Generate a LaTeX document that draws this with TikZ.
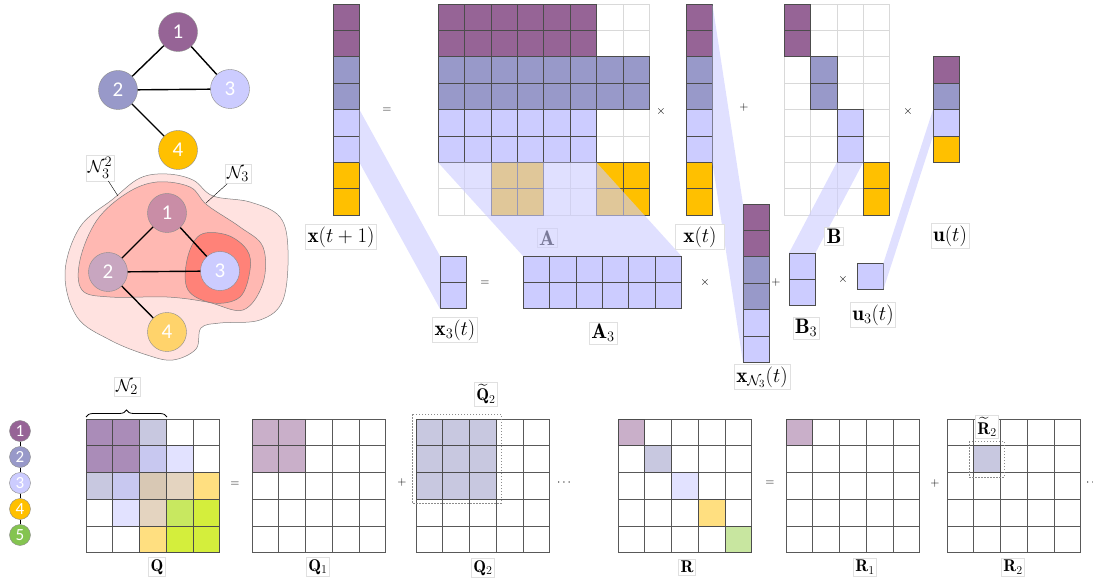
\documentclass[tikz,border=0pt]{standalone}
\usepackage{amsmath,amssymb}
\usepackage{fontspec}
\newfontfamily\numfont{Carlito}
\usetikzlibrary{decorations.pathreplacing}

\definecolor{purp}{HTML}{966496}
\definecolor{slate}{HTML}{9899C9}
\definecolor{lav}{HTML}{CCCCFF}
\definecolor{amber}{HTML}{FFC000}
\definecolor{leaf}{HTML}{84C450}
\definecolor{purpL}{HTML}{C9AFC9}
\definecolor{slateL}{HTML}{C8C8E0}
\definecolor{lavL}{HTML}{E2E2FF}
\definecolor{amberL}{HTML}{FFDF80}
\definecolor{leafL}{HTML}{C8E6A0}
\definecolor{mixPS}{HTML}{AA8CB8}
\definecolor{mixSL}{HTML}{C8C8F0}
\definecolor{tanA}{HTML}{D8C8B4}
\definecolor{tanB}{HTML}{E4D4C0}
\definecolor{lime}{HTML}{C8E860}
\definecolor{limeB}{HTML}{D4EE3C}
\definecolor{pinkA}{HTML}{FFE2E0}
\definecolor{pinkB}{HTML}{FFB8B2}
\definecolor{pinkC}{HTML}{FF8278}
\definecolor{nbA}{HTML}{C98DA6}
\definecolor{nbB}{HTML}{C8A6C0}
\definecolor{nbD}{HTML}{FFD36B}

% cells of a matrix: x, y, rows, cols, size, style
\newcommand{\gridmat}[6]{%
  \foreach \ii in {1,...,#3}{\foreach \jj in {1,...,#4}{%
    \draw[#6] ({#1+(\jj-1)*#5},{#2+(\ii-1)*#5}) rectangle ++(#5,#5);}}}
% one coloured cell: x, y, size, row, col, colour
\newcommand{\cellat}[6]{%
  \draw[cellbox, fill=#6] ({#1+#5*#3},{#2+#4*#3}) rectangle ++(#3,#3);}

\begin{document}
\begin{tikzpicture}[x=1pt,y=-1pt,
  vtx/.style={circle, draw=black!45, minimum size=39pt, inner sep=0pt, text=white, font=\numfont\fontsize{21}{21}\selectfont},
  svtx/.style={vtx, minimum size=21pt, font=\numfont\fontsize{17}{17}\selectfont},
  edge/.style={line width=1.4pt},
  lbl/.style={draw=black!12, fill=white, inner sep=2pt, font=\fontsize{21}{25}\selectfont},
  nlbl/.style={lbl, font=\fontsize{19}{22}\selectfont},
  slbl/.style={lbl, font=\fontsize{17}{20}\selectfont},
  op/.style={font=\fontsize{12}{14}\selectfont},
  band/.style={fill=lav, fill opacity=0.6},
  blob/.style={draw=black!50, line width=0.5pt},
  lightgrid/.style={draw=black!15, line width=0.6pt},
  darkgrid/.style={draw=black!65, line width=0.6pt},
  cellbox/.style={draw=black!70, line width=0.6pt},
  dashbox/.style={draw=black!45, dash pattern=on 1.5pt off 1.5pt, line width=0.6pt}]
\useasboundingbox (0,0) rectangle (1093,580);

% graph
\path (178,32) node (t1) [vtx, fill=purp] {1};
\path (118,90) node (t2) [vtx, fill=slate] {2};
\path (230,89) node (t3) [vtx, fill=lav] {3};
\path (178,150) node (t4) [vtx, fill=amber] {4};
\draw[edge] (t1) -- (t2);
\draw[edge] (t1) -- (t3);
\draw[edge] (t2) -- (t3);
\draw[edge] (t2) -- (t4);

% neighbourhoods of node 3
\draw[blob, fill=pinkA] plot[smooth cycle, tension=0.6] coordinates {(167,174) (140,178) (113,199) (80,227) (65,273) (77,317) (110,340) (147,355) (173,360) (196,349) (201,328) (220,323) (260,320) (283,300) (288,250) (280,217) (250,202) (213,196) (193,180)};
\draw[blob, fill=pinkB] plot[smooth cycle, tension=0.6] coordinates {(157,182) (127,193) (97,220) (80,260) (82,290) (110,297) (167,297) (207,302) (243,310) (263,283) (263,247) (240,227) (207,205) (190,187)};
\draw[blob, fill=pinkC] plot[smooth cycle, tension=0.6] coordinates {(200,235) (187,260) (188,290) (213,303) (240,297) (250,270) (247,250) (227,235)};
\path (167,213) node (b1) [vtx, fill=nbA] {1};
\path (108,272) node (b2) [vtx, fill=nbB] {2};
\path (220,271) node (b3) [vtx, fill=lav] {3};
\path (167,332) node (b4) [vtx, fill=nbD] {4};
\draw[edge] (b1) -- (b2);
\draw[edge] (b1) -- (b3);
\draw[edge] (b2) -- (b3);
\draw[edge] (b2) -- (b4);
\path (100,168) node (n32) [nlbl] {$\mathcal{N}_3^2$};
\path (238,174) node (n3) [nlbl] {$\mathcal{N}_3$};
\coordinate (n32end) at (118,196);
\coordinate (n3end) at (206,203);
\draw (n32) -- (n32end);
\draw (n3) -- (n3end);

% x(t+1) = A x(t) + B u(t)
\gridmat{333}{4}{8}{1}{26.4}{lightgrid}
\foreach \r/\col in {0/purp,1/purp,2/slate,3/slate,4/lav,5/lav,6/amber,7/amber}
  {\cellat{333}{4}{26.4}{\r}{0}{\col}}
\gridmat{438}{4}{8}{8}{26.4}{lightgrid}
\foreach \r/\col in {0/purp,1/purp,4/lav,5/lav}
  {\foreach \k in {0,...,5} {\cellat{438}{4}{26.4}{\r}{\k}{\col}}}
\foreach \r in {2,3}
  {\foreach \k in {0,...,7} {\cellat{438}{4}{26.4}{\r}{\k}{slate}}}
\foreach \r in {6,7}
  {\foreach \k in {2,3,6,7} {\cellat{438}{4}{26.4}{\r}{\k}{amber}}}
\gridmat{686}{4}{8}{1}{26.4}{lightgrid}
\foreach \r/\col in {0/purp,1/purp,2/slate,3/slate,4/lav,5/lav,6/amber,7/amber}
  {\cellat{686}{4}{26.4}{\r}{0}{\col}}
\gridmat{784}{4}{8}{4}{26.4}{lightgrid}
\foreach \r/\k/\col in {0/0/purp,1/0/purp,2/1/slate,3/1/slate,4/2/lav,5/2/lav,6/3/amber,7/3/amber}
  {\cellat{784}{4}{26.4}{\r}{\k}{\col}}
\foreach \r/\col in {0/purp,1/slate,2/lav,3/amber}
  {\cellat{933}{56.8}{26.4}{\r}{0}{\col}}

% local model of node 3
\foreach \r in {0,1} {\cellat{440}{256}{26.4}{\r}{0}{lav}}
\foreach \r in {0,1} {\foreach \k in {0,...,5} {\cellat{523}{256}{26.4}{\r}{\k}{lav}}}
\foreach \r/\col in {0/purp,1/purp,2/slate,3/slate,4/lav,5/lav}
  {\cellat{743}{204}{26.4}{\r}{0}{\col}}
\foreach \r in {0,1} {\cellat{789}{253}{26.4}{\r}{0}{lav}}
\cellat{857}{263}{26.4}{0}{0}{lav}

\path (547,238) node (Alab) [lbl] {$\mathbf{A}$};

% projections
\coordinate (p1a) at (359.4,109.6); \coordinate (p1b) at (359.4,162.4);
\coordinate (p1c) at (440,308.8);   \coordinate (p1d) at (440,256);
\coordinate (p2a) at (438,162.4);   \coordinate (p2b) at (596.4,162.4);
\coordinate (p2c) at (681.4,256);   \coordinate (p2d) at (523,256);
\coordinate (p3a) at (712.4,4);     \coordinate (p3b) at (712.4,162.4);
\coordinate (p3c) at (743,362.4);   \coordinate (p3d) at (743,204);
\coordinate (p4a) at (836.8,162.4); \coordinate (p4b) at (863.2,162.4);
\coordinate (p4c) at (815.4,253);   \coordinate (p4d) at (789,253);
\coordinate (p5a) at (933,109.6);   \coordinate (p5b) at (933,136);
\coordinate (p5c) at (883.4,289.4); \coordinate (p5d) at (883.4,263);
\fill[band] (p1a) -- (p1b) -- (p1c) -- (p1d) -- cycle;
\fill[band] (p2a) -- (p2b) -- (p2c) -- (p2d) -- cycle;
\fill[band] (p3a) -- (p3b) -- (p3c) -- (p3d) -- cycle;
\fill[band] (p4a) -- (p4b) -- (p4c) -- (p4d) -- cycle;
\fill[band] (p5a) -- (p5b) -- (p5c) -- (p5d) -- cycle;

\path (341,237) node (xt1lab) [lbl] {$\mathbf{x}(t+1)$};
\path (700,237) node (xtlab) [lbl, inner xsep=8pt] {$\mathbf{x}(t)$};
\path (834,236) node (Blab) [lbl] {$\mathbf{B}$};
\path (950,236) node (utlab) [lbl] {$\mathbf{u}(t)$};
\path (455,330) node (x3lab) [lbl] {$\mathbf{x}_3(t)$};
\path (603,333) node (A3lab) [lbl] {$\mathbf{A}_3$};
\path (762,377) node (xNlab) [lbl] {$\mathbf{x}_{\mathcal{N}_3}(t)$};
\path (806,328) node (B3lab) [lbl] {$\mathbf{B}_3$};
\path (873,315) node (u3lab) [lbl] {$\mathbf{u}_3(t)$};

\path (387,110) node (eq1) [op] {$=$};
\path (661,112) node (times1) [op] {$\times$};
\path (744,108) node (plus1) [op] {$+$};
\path (908,112) node (times2) [op] {$\times$};
\path (485,283) node (eq2) [op] {$=$};
\path (705,283) node (times3) [op] {$\times$};
\path (776,283) node (plus2) [op] {$+$};
\path (843,280) node (times4) [op] {$\times$};

% path graph and its cost matrices
\path (20,431) node (c1) [svtx, fill=purp] {1};
\path (20,457) node (c2) [svtx, fill=slate] {2};
\path (20,483) node (c3) [svtx, fill=lav] {3};
\path (20,509) node (c4) [svtx, fill=amber] {4};
\path (20,535) node (c5) [svtx, fill=leaf] {5};
\draw[line width=1pt] (c1) -- (c2);
\draw[line width=1pt] (c2) -- (c3);
\draw[line width=1pt] (c3) -- (c4);
\draw[line width=1pt] (c4) -- (c5);

\gridmat{86}{419}{5}{5}{26.7}{darkgrid}
\foreach \r/\k/\col in {0/0/mixPS,0/1/mixPS,1/0/mixPS,1/1/mixPS,0/2/slateL,2/0/slateL,1/2/mixSL,2/1/mixSL,1/3/lavL,3/1/lavL,2/2/tanA,2/3/tanB,3/2/tanB,2/4/amberL,4/2/amberL,3/3/lime,3/4/limeB,4/3/limeB,4/4/limeB}
  {\cellat{86}{419}{26.7}{\r}{\k}{\col}}
\draw[decorate, decoration={brace, amplitude=7pt}, line width=0.8pt] (86,417) -- (167,417);
\path (127,387) node (n2) [nlbl] {$\mathcal{N}_2$};

\gridmat{252}{419}{5}{5}{26.7}{darkgrid}
\foreach \r/\k in {0/0,0/1,1/0,1/1} {\cellat{252}{419}{26.7}{\r}{\k}{purpL}}
\gridmat{416}{419}{5}{5}{26.7}{darkgrid}
\foreach \r in {0,1,2} {\foreach \k in {0,1,2} {\cellat{416}{419}{26.7}{\r}{\k}{slateL}}}
\draw[dashbox] (412,414) rectangle (501,503);

\gridmat{618}{419}{5}{5}{26.7}{darkgrid}
\foreach \r/\col in {0/purpL,1/slateL,2/lavL,3/amberL,4/leafL}
  {\cellat{618}{419}{26.7}{\r}{\r}{\col}}
\gridmat{786}{419}{5}{5}{26.7}{darkgrid}
\cellat{786}{419}{26.7}{0}{0}{purpL}
\gridmat{947}{419}{5}{5}{26.7}{darkgrid}
\cellat{947}{419}{26.7}{1}{1}{slateL}
\draw[dashbox] (969,441) rectangle (1004,477);

\path (157,567) node (Qlab) [slbl] {$\mathbf{Q}$};
\path (318,567) node (Q1lab) [slbl] {$\mathbf{Q}_1$};
\path (483,568) node (Q2lab) [slbl] {$\mathbf{Q}_2$};
\path (486,394) node (Qt2lab) [slbl] {$\widetilde{\mathbf{Q}}_2$};
\path (687,567) node (Rlab) [slbl] {$\mathbf{R}$};
\path (865,567) node (R1lab) [slbl] {$\mathbf{R}_1$};
\path (1013,567) node (R2lab) [slbl] {$\mathbf{R}_2$};
\path (987,427) node (Rt2lab) [slbl] {$\widetilde{\mathbf{R}}_2$};

\path (235,484) node (eq3) [op] {$=$};
\path (402,482) node (plus3) [op] {$+$};
\path (565,483) node (dots1) [op] {$\cdots$};
\path (770,483) node (eq4) [op] {$=$};
\path (935,483) node (plus4) [op] {$+$};
\path (1094,483) node (dots2) [op] {$\cdots$};

\end{tikzpicture}
\end{document}
